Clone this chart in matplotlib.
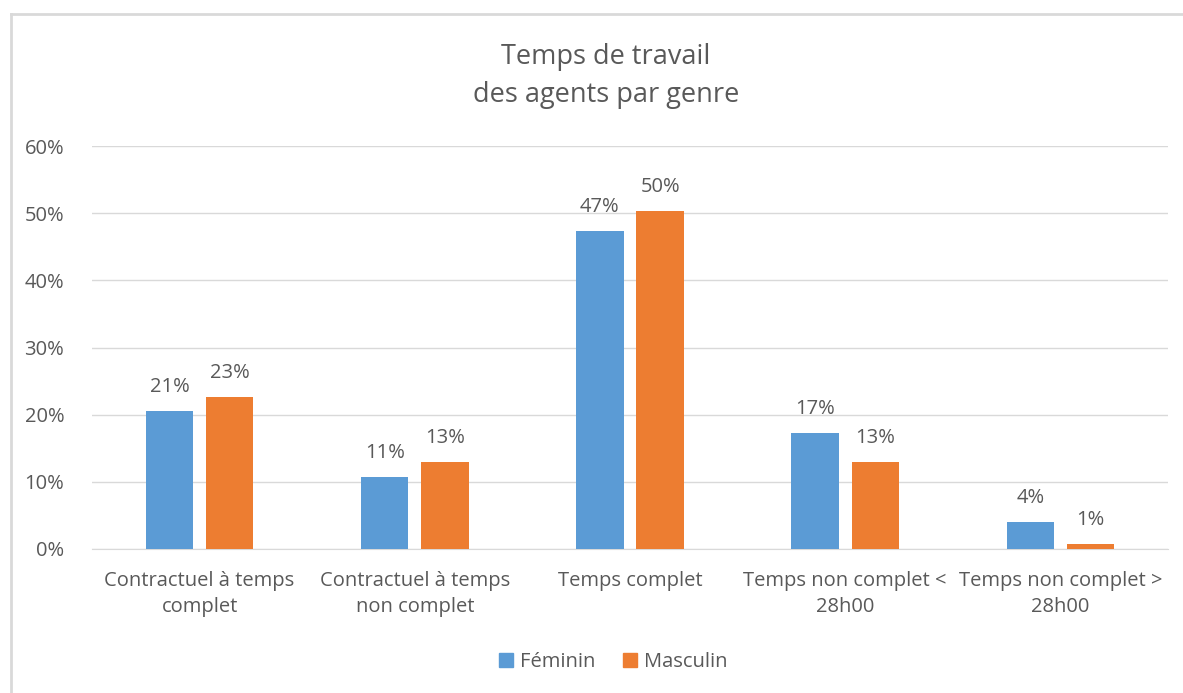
import matplotlib
matplotlib.use("Agg")
import matplotlib.pyplot as plt
import numpy as np
from matplotlib.lines import Line2D
from matplotlib.ticker import PercentFormatter

categories = ["Contractuel à temps\ncomplet", "Contractuel à temps\nnon complet",
              "Temps complet", "Temps non complet <\n28h00", "Temps non complet >\n28h00"]
feminin = [20.6, 10.7, 47.3, 17.3, 4.0]
masculin = [22.6, 13.0, 50.3, 13.0, 0.8]
series_names = ["Féminin", "Masculin"]
title = "Temps de travail\ndes agents par genre"

plt.rcParams['font.family'] = ['Open Sans', 'DejaVu Sans']
TXT = "#595959"
BLUE = "#5B9BD5"
ORANGE = "#ED7D31"
FS = 14.5

W, H = 1183, 693
fig = plt.figure(figsize=(W / 100, H / 100), dpi=100)
ax = fig.add_axes([92 / W, 1 - 549 / H, (1168 - 92) / W, (549 - 146) / H])

x = np.arange(len(categories))
bw = 0.22
off = 0.14
b1 = ax.bar(x - off, feminin, bw, color=BLUE, label=series_names[0], zorder=3)
b2 = ax.bar(x + off, masculin, bw, color=ORANGE, label=series_names[1], zorder=3)

for bars, vals in ((b1, feminin), (b2, masculin)):
    for rect, v in zip(bars, vals):
        ax.annotate(f"{int(v + 0.5)}%", (rect.get_x() + rect.get_width() / 2, v),
                    xytext=(0, 10), textcoords="offset points", ha="center", va="bottom",
                    fontsize=FS, color=TXT)

ax.set_xlim(-0.5, len(categories) - 0.5)
ax.set_ylim(0, 60)
ax.set_yticks(range(0, 61, 10))
ax.yaxis.set_major_formatter(PercentFormatter(decimals=0))
ax.grid(axis="y", color="#D9D9D9", linewidth=1, zorder=0)
for s in ["top", "right", "left"]:
    ax.spines[s].set_visible(False)
ax.spines["bottom"].set_color("#D9D9D9")
ax.tick_params(axis="both", length=0, labelsize=FS, colors=TXT)
ax.tick_params(axis="y", pad=20)
ax.tick_params(axis="x", pad=16)
ax.set_xticks(x)
ax.set_xticklabels(categories, linespacing=1.4)

fig.text(606 / W, 1 - 76 / H, title, ha="center", va="center",
         fontsize=19.5, color=TXT, linespacing=1.45)

handles = [Line2D([], [], marker="s", linestyle="", color=BLUE, markersize=10),
           Line2D([], [], marker="s", linestyle="", color=ORANGE, markersize=10)]
fig.legend(handles, series_names, loc="center", bbox_to_anchor=(612 / W, 1 - 662 / H),
           ncol=2, frameon=False, fontsize=FS, labelcolor=TXT, handletextpad=0.2,
           columnspacing=1.2, handlelength=1.0)

# chart frame lines
fig.add_artist(Line2D([11 / W, 1], [1 - 14 / H, 1 - 14 / H], color="#D9D9D9", linewidth=2))
fig.add_artist(Line2D([11 / W, 11 / W], [0, 1 - 14 / H], color="#D9D9D9", linewidth=2))

fig.savefig("out.png", dpi=100, facecolor="white")
